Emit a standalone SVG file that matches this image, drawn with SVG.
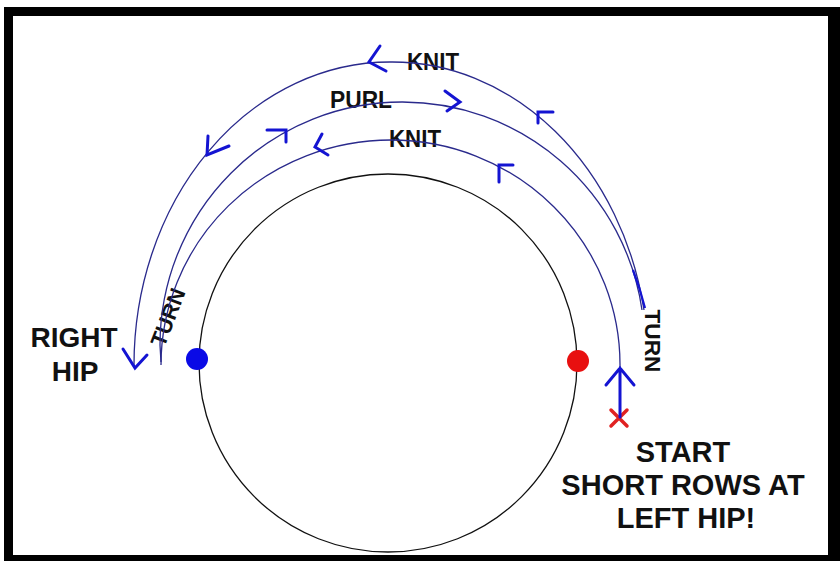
<svg xmlns="http://www.w3.org/2000/svg" width="840" height="561" viewBox="0 0 840 561">
<style>
.lbl{font-family:"Liberation Sans",Arial,sans-serif;font-weight:bold;fill:#111;}
.big{font-size:29px;text-anchor:middle;}
.row{font-size:23px;}
.turn{font-size:22px;text-anchor:middle;}
.arc{fill:none;stroke:#2a2a8c;stroke-width:1.3;}
.chev{fill:none;stroke:#1414d2;stroke-width:3;stroke-linecap:round;stroke-linejoin:miter;}
</style>
<rect x="0" y="0" width="840" height="561" fill="#ffffff"/>
<path d="M4 7 H840 V561 H4 Z M13 16 V555 H828 V16 Z" fill="#000" fill-rule="evenodd"/>

<g id="body">
<circle cx="388" cy="363" r="189" fill="none" stroke="#111" stroke-width="1.3"/>
</g>
<g id="right-hip-marker">
<circle cx="197" cy="359" r="11" fill="#0a0ae6"/>
</g>
<g id="left-hip-marker">
<circle cx="578" cy="361" r="11" fill="#e81010"/>
</g>
<g id="start-mark">
<path d="M611 410 L627 426 M627 410 L611 426" stroke="#e02222" stroke-width="3.5" stroke-linecap="round"/>
</g>

<g id="label-right-hip">
<text class="lbl big" x="74" y="347" style="font-size:28px">RIGHT</text>
<text class="lbl big" x="75" y="381" style="font-size:28px">HIP</text>
</g>
<g id="label-start">
<text class="lbl big" x="683" y="462">START</text>
<text class="lbl big" x="683" y="495">SHORT ROWS AT</text>
<text class="lbl big" x="686" y="528">LEFT HIP!</text>
</g>
<g id="label-knit-outer"><text class="lbl row" x="407" y="70" textLength="52" lengthAdjust="spacingAndGlyphs">KNIT</text></g>
<g id="label-purl"><text class="lbl row" x="330" y="108" textLength="62" lengthAdjust="spacingAndGlyphs">PURL</text></g>
<g id="label-knit-inner"><text class="lbl row" x="389" y="147" textLength="52" lengthAdjust="spacingAndGlyphs">KNIT</text></g>
<g id="label-turn-left"><text class="lbl turn" transform="translate(175 320) rotate(-69)" textLength="60" lengthAdjust="spacingAndGlyphs">TURN</text></g>
<g id="label-turn-right"><text class="lbl turn" transform="translate(645 341) rotate(90)" textLength="63" lengthAdjust="spacingAndGlyphs">TURN</text></g>

<g id="connectors">
<path class="arc" d="M644 310 A256 303 0 0 0 390 62 A256 303 0 0 0 134 366"/>
<path class="arc" d="M642 310 A242 243 0 0 0 402 102 A242 243 0 0 0 160 345 L161 362"/>
<path class="arc" d="M620 368 A229 225 0 0 0 391 140 A230 225 0 0 0 161 365"/>
<path d="M633 270 A256 303 0 0 1 645 308" fill="none" stroke="#1414d2" stroke-width="2.2"/>
<path class="chev" d="M380 46 L369 62 L386 71"/>
<path class="chev" d="M208 136 L207 155 L229 146"/>
<path class="chev" d="M267 130 L286 130 L286 142"/>
<path class="chev" d="M445 91 L460 102 L447 111"/>
<path class="chev" d="M322 134 L315 147 L328 155"/>
<path class="chev" d="M553 112 L538 112 L538 123"/>
<path class="chev" d="M513 165 L499 165 L499 182"/>
<path class="chev" d="M123 349 L135 368 L147 355"/>
<path class="chev" d="M606 385 L620 368 L634 385 M620 368 L620 417"/>
</g>
</svg>
